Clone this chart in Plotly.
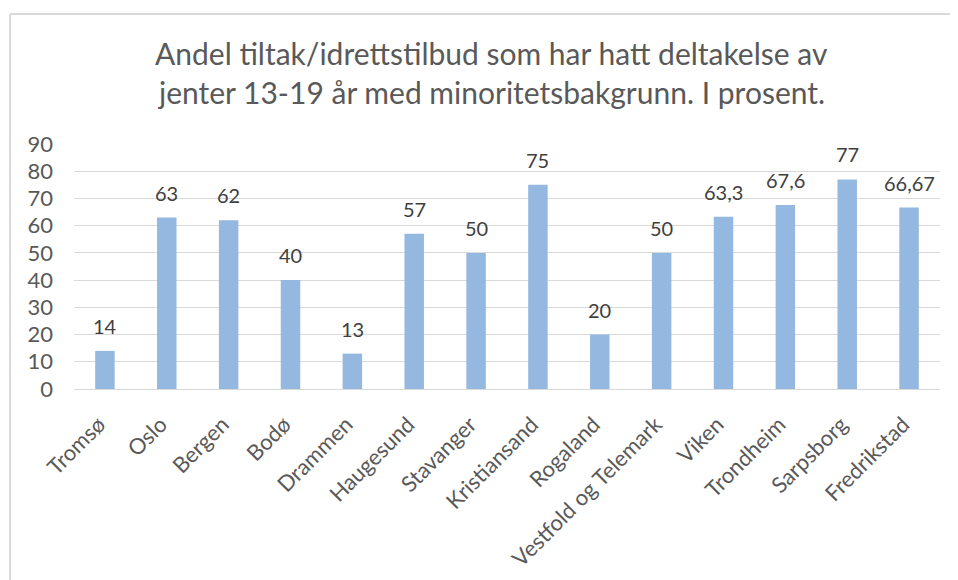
import plotly.graph_objects as go

steder = ["Tromsø", "Oslo", "Bergen", "Bodø", "Drammen", "Haugesund", "Stavanger",
          "Kristiansand", "Rogaland", "Vestfold og Telemark", "Viken", "Trondheim",
          "Sarpsborg", "Fredrikstad"]
andel = [14, 63, 62, 40, 13, 57, 50, 75, 20, 50, 63.3, 67.6, 77, 66.67]
etiketter = ["14", "63", "62", "40", "13", "57", "50", "75", "20", "50", "63,3", "67,6", "77", "66,67"]

tittel = ["Andel tiltak/idrettstilbud som har hatt deltakelse av",
          "jenter 13-19 år med minoritetsbakgrunn. I prosent."]

fnt = "Lato, 'Open Sans', sans-serif"

fig = go.Figure()
fig.add_trace(go.Bar(
    x=steder, y=andel,
    marker=dict(color="#95B8E0", line=dict(width=0)),
))

# dataetiketter over søylene
for s, v, t in zip(steder, andel, etiketter):
    fig.add_annotation(x=s, y=v, text=t, showarrow=False, yanchor="bottom",
                       yshift=11, font=dict(size=20, color="#404040", family=fnt))

# tittel, to linjer
for linje, ypos in zip(tittel, [1.372, 1.214]):
    fig.add_annotation(x=0.482, y=ypos, xref="paper", yref="paper", text=linje,
                       showarrow=False, xanchor="center", yanchor="middle",
                       font=dict(size=30, color="#595959", family=fnt))

fig.update_layout(
    width=958, height=580,
    margin=dict(l=66, r=26, t=136, b=199),
    paper_bgcolor="white", plot_bgcolor="white",
    bargap=0.685,
    showlegend=False,
    font=dict(family=fnt, color="#595959"),
    xaxis=dict(
        tickangle=-45, tickfont=dict(size=22, color="#595959"),
        showgrid=False, showline=True, linecolor="#D9D9D9", linewidth=1,
        ticks="", automargin=False, ticklabelstandoff=13, ticklabelshift=-6,
    ),
    yaxis=dict(
        range=[0, 90], dtick=10, tickfont=dict(size=22, color="#595959"),
        showgrid=True, gridcolor="#D9D9D9", gridwidth=1,
        zeroline=False, showline=False, ticks="", automargin=False,
        ticklabelstandoff=20,
    ),
    shapes=[
        dict(type="line", xref="paper", yref="paper", x0=-0.0739, x1=-0.0739,
             y0=-0.9, y1=1.5306, line=dict(color="#D9D9D9", width=2)),
        dict(type="line", xref="paper", yref="paper", x0=-0.0739, x1=1.1,
             y0=1.5306, y1=1.5306, line=dict(color="#D9D9D9", width=2)),
    ],
)

fig.write_html("out.html")
